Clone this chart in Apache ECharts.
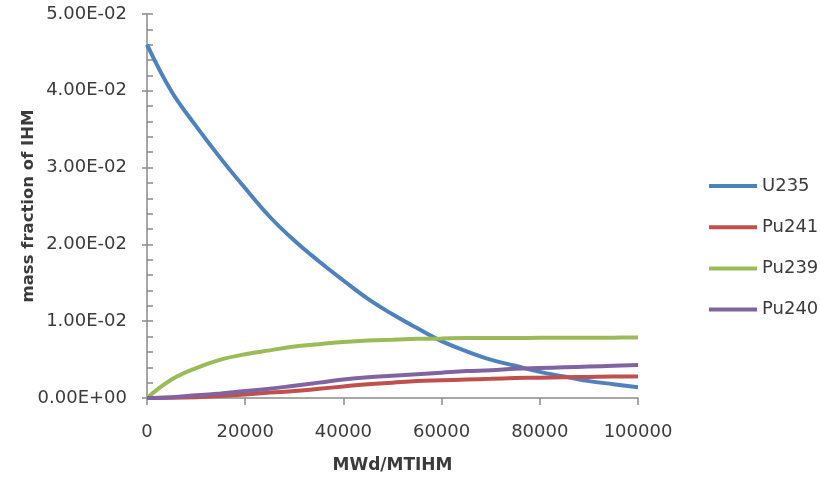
<!DOCTYPE html>
<html>
<head>
<meta charset="utf-8">
<script src="https://cdn.jsdelivr.net/npm/echarts@6/dist/echarts.min.js"></script>
<style>html,body{margin:0;padding:0;background:#fff}#c{width:820px;height:477px}</style>
</head>
<body>
<div id="c"></div>
<script>
const burnup = [0,5000,10000,15000,20000,25000,30000,35000,40000,45000,50000,55000,60000,65000,70000,75000,80000,85000,90000,95000,100000];
const u235  = [0.0460,0.0399,0.0354,0.0312,0.0273,0.0236,0.0205,0.0178,0.0153,0.0129,0.0109,0.0091,0.0074,0.0061,0.0050,0.0042,0.0034,0.0028,0.0022,0.0018,0.0014];
const pu241 = [0,0.00002,0.0001,0.00025,0.00045,0.0007,0.0009,0.0012,0.0015,0.0018,0.0020,0.0022,0.0023,0.0024,0.0025,0.0026,0.00265,0.0027,0.00275,0.0028,0.0028];
const pu239 = [0,0.0024,0.0039,0.0050,0.0057,0.0062,0.0067,0.0070,0.0073,0.0075,0.0076,0.0077,0.00775,0.0078,0.0078,0.00782,0.00783,0.00784,0.00785,0.00786,0.00787];
const pu240 = [0,0.0001,0.00035,0.0006,0.0009,0.0012,0.0016,0.0020,0.0024,0.0027,0.0029,0.0031,0.0033,0.0035,0.0036,0.0038,0.0039,0.0040,0.0041,0.0042,0.0043];
const seriesNames = ['U235','Pu241','Pu239','Pu240'];
const seriesValues = [u235, pu241, pu239, pu240];
const colors = ['#4F81BD','#C0504D','#9BBB59','#8064A2'];

const font = 'DejaVu Sans';
const axisColor = '#8a8a8a';
const textColor = '#3b3b3b';

function fmt(v){
  const s = v.toExponential(2);
  const m = s.split('e');
  let e = parseInt(m[1],10);
  const sign = e < 0 ? '-' : '+';
  e = Math.abs(e);
  return m[0] + 'E' + sign + (e < 10 ? '0' + e : '' + e);
}

const chart = echarts.init(document.getElementById('c'));
const legends = seriesNames.map((n,i) => ({
  data: [n], left: 704, top: 172 + i*41.2, orient: 'vertical',
  icon: 'rect', itemWidth: 48, itemHeight: 4,
  textStyle: {fontFamily: font, fontSize: 18, color: textColor}
}));
const yCommon = {type:'value', min:0, max:0.05, interval:0.01, position:'left'};
chart.setOption({
  animation: false,
  backgroundColor: '#fff',
  grid: {left:147, right:182, top:14, bottom:79, containLabel:false, outerBoundsMode:'none'},
  legend: legends,
  xAxis: {
    type:'value', min:0, max:100000, interval:20000,
    name:'MWd/MTIHM', nameLocation:'middle', nameGap:59, nameMoveOverlap:false,
    nameTextStyle:{fontFamily:font, fontSize:17, fontWeight:'bold', color:textColor},
    axisLine:{show:true, lineStyle:{color:axisColor, width:1.5}},
    axisTick:{show:true, length:7, lineStyle:{color:axisColor, width:1.5}},
    axisLabel:{fontFamily:font, fontSize:18, color:textColor, margin:8, padding:[17,0,0,0], formatter: v => String(v)},
    splitLine:{show:false}
  },
  yAxis: [
    Object.assign({}, yCommon, {
      name:'mass fraction of IHM', nameLocation:'middle', nameGap:110, nameRotate:90, nameMoveOverlap:false,
      nameTextStyle:{fontFamily:font, fontSize:16.5, fontWeight:'bold', color:textColor},
      axisLine:{show:true, lineStyle:{color:axisColor, width:1.5}},
      axisTick:{show:true, inside:true, length:6, lineStyle:{color:axisColor, width:1.5}},
      minorTick:{show:true, splitNumber:5, length:6, lineStyle:{color:axisColor, width:1.5}},
      axisLabel:{fontFamily:font, fontSize:18, color:textColor, margin:20, formatter:fmt},
      splitLine:{show:false}, minorSplitLine:{show:false}
    }),
    Object.assign({}, yCommon, {
      axisLine:{show:false},
      axisTick:{show:true, inside:false, length:5, lineStyle:{color:axisColor, width:1.5}},
      axisLabel:{show:false}, splitLine:{show:false}
    })
  ],
  series: seriesNames.map((n,i) => ({
    name:n, type:'line', smooth:0.4, showSymbol:false, symbol:'none',
    color: colors[i],
    lineStyle:{width:4, color:colors[i]},
    data: burnup.map((x,j) => [x, seriesValues[i][j]])
  }))
});
</script>
</body>
</html>
